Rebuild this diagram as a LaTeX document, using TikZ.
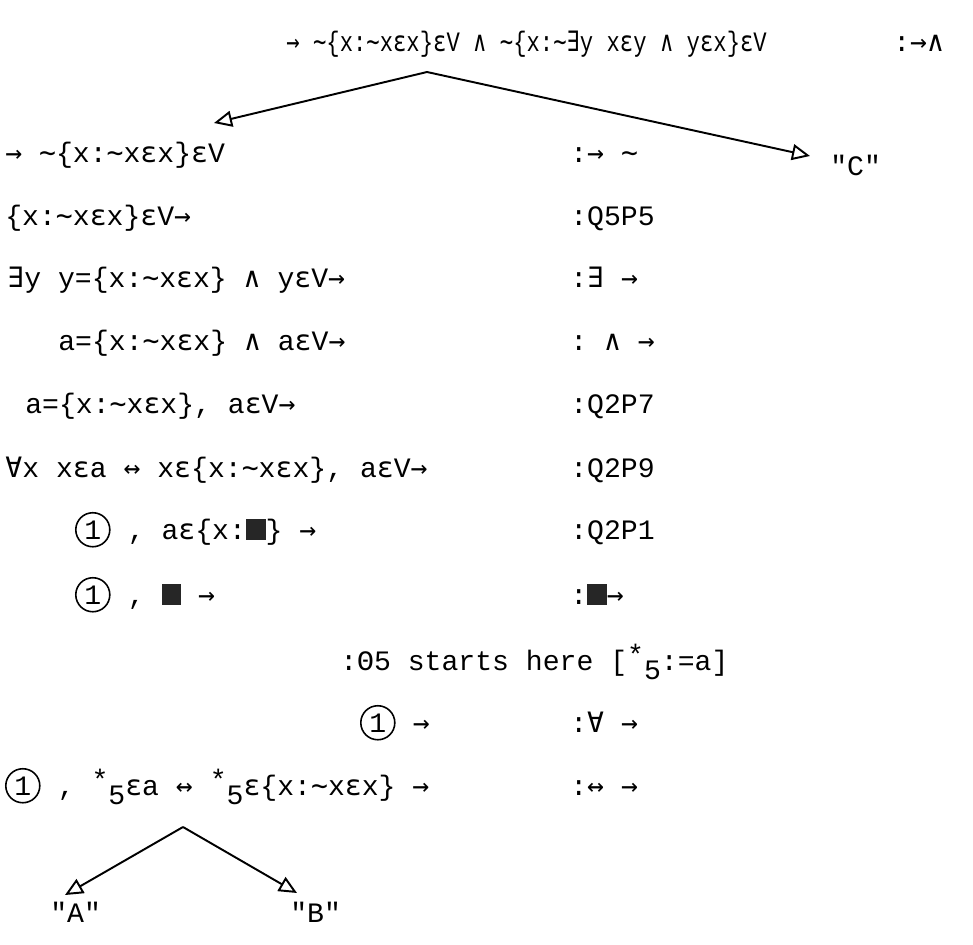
\documentclass[tikz,border=0pt]{standalone}
\usepackage{fontspec}
\usepackage{graphicx}
\setmonofont{Liberation Mono}
\newfontfamily\symfont{DejaVu Sans Mono}
\usetikzlibrary{arrows.meta,positioning}
\newcommand{\ineg}{{\symfont\char"223C}}
\newcommand{\iex}{{\symfont\char"2203}}
\newcommand{\iall}{{\symfont\char"2200}}
\newcommand{\iand}{{\symfont\char"2227}}
\newcommand{\iarr}{{\symfont\char"2192}}
\newcommand{\iiff}{{\symfont\char"2194}}
\newcommand{\ieps}{{\symfont\char"03B5}}
\newcommand{\blob}{\textcolor{black!85}{\rule[-0.05em]{0.7em}{0.75em}}}
\newcommand{\starf}{\raisebox{0.2em}{*}\raisebox{-0.35em}{5}}

\begin{document}
\begin{tikzpicture}[
          row/.style={anchor=base west,inner sep=0pt,font=\ttfamily\fontsize{16}{19}\selectfont},
          one/.style={draw,circle,inner sep=1.8pt,line width=0.9pt,anchor=base west,
            font=\ttfamily\fontsize{16}{19}\selectfont},
          fork/.style={-{Triangle[open,length=3.6mm,width=3.2mm]},line width=1.1pt}]
        \useasboundingbox (0,0) rectangle (19.46,-18.88);
        % top formula and its split
        \node[row] (top) at (5.72,-1.04) {\scalebox{0.79}[1]{\iarr{} \ineg\{x:\ineg x\ieps x\}\ieps V \iand{} \ineg\{x:\ineg\iex y x\ieps y \iand{}  y\ieps x\}\ieps V}};
        \node[row] (topr) at (17.86,-1.04) {:\iarr\iand};
        \coordinate (topfork) at (8.54,-1.44);
        \coordinate (lt) at (4.28,-2.46);
        \coordinate (rt) at (16.2,-3.12);
        \node[row] (C) at (16.6,-3.5) {"C"};
        \draw[fork] (topfork) -- (lt);
        \draw[fork] (topfork) -- (rt);
        % left branch, line by line
        \node[row] (r1) at (0.1,-3.24) {\iarr{} \ineg\{x:\ineg x\ieps x\}\ieps V};
        \node[row] (r2) at (0.1,-4.5) {\{x:\ineg x\ieps x\}\ieps V\iarr};
        \node[row] (r3) at (0.14,-5.74) {\iex y y=\{x:\ineg x\ieps x\} \iand{} y\ieps V\iarr};
        \node[row] (r4) at (1.16,-7.0) {a=\{x:\ineg x\ieps x\} \iand{} a\ieps V\iarr};
        \node[row] (r5) at (0.5,-8.26) {a=\{x:\ineg x\ieps x\}, a\ieps V\iarr};
        \node[row] (r6) at (0.1,-9.54) {\iall x x\ieps a \iiff{} x\ieps\{x:\ineg x\ieps x\}, a\ieps V\iarr};
        \node[one] (o7) at (1.5,-10.78) {1};
        \node[row] (r7) at (o7.base east) {\ , a\ieps\{x:\blob{}\} \iarr};
        \node[one] (o8) at (1.5,-12.08) {1};
        \node[row] (r8) at (o8.base east) {\ , \blob{} \iarr};
        \node[row] (r9) at (6.8,-13.4) {:\char"0398 5 starts here [\starf:=a]};
        \node[one] (o10) at (7.2,-14.64) {1};
        \node[row] (r10) at (o10.base east) {\ \iarr};
        \node[one] (o11) at (0.1,-15.9) {1};
        \node[row] (r11) at (o11.base east) {\ , \starf\ieps a \iiff{} \starf\ieps\{x:\ineg x\ieps x\} \iarr};
        % rule names
        \node[row] (q1) at (11.4,-3.24) {:\iarr{} \ineg};
        \node[row] (q2) at (11.4,-4.5) {:Q5P5};
        \node[row] (q3) at (11.4,-5.74) {:\iex{} \iarr};
        \node[row] (q4) at (11.4,-7.0) {: \iand{} \iarr};
        \node[row] (q5) at (11.4,-8.26) {:Q2P7};
        \node[row] (q6) at (11.4,-9.54) {:Q2P9};
        \node[row] (q7) at (11.4,-10.78) {:Q2P1};
        \node[row] (q8) at (11.4,-12.08) {:\blob\iarr};
        \node[row] (q10) at (11.4,-14.64) {:\iall{} \iarr};
        \node[row] (q11) at (11.4,-15.9) {:\iiff{} \iarr};
        % bottom split
        \coordinate (botfork) at (3.66,-16.54);
        \coordinate (lb) at (1.3,-17.9);
        \coordinate (rb) at (5.94,-17.86);
        \node[row] (A) at (1.0,-18.44) {"A"};
        \node[row] (B) at (5.8,-18.44) {"B"};
        \draw[fork] (botfork) -- (lb);
        \draw[fork] (botfork) -- (rb);
      \end{tikzpicture}
\end{document}
